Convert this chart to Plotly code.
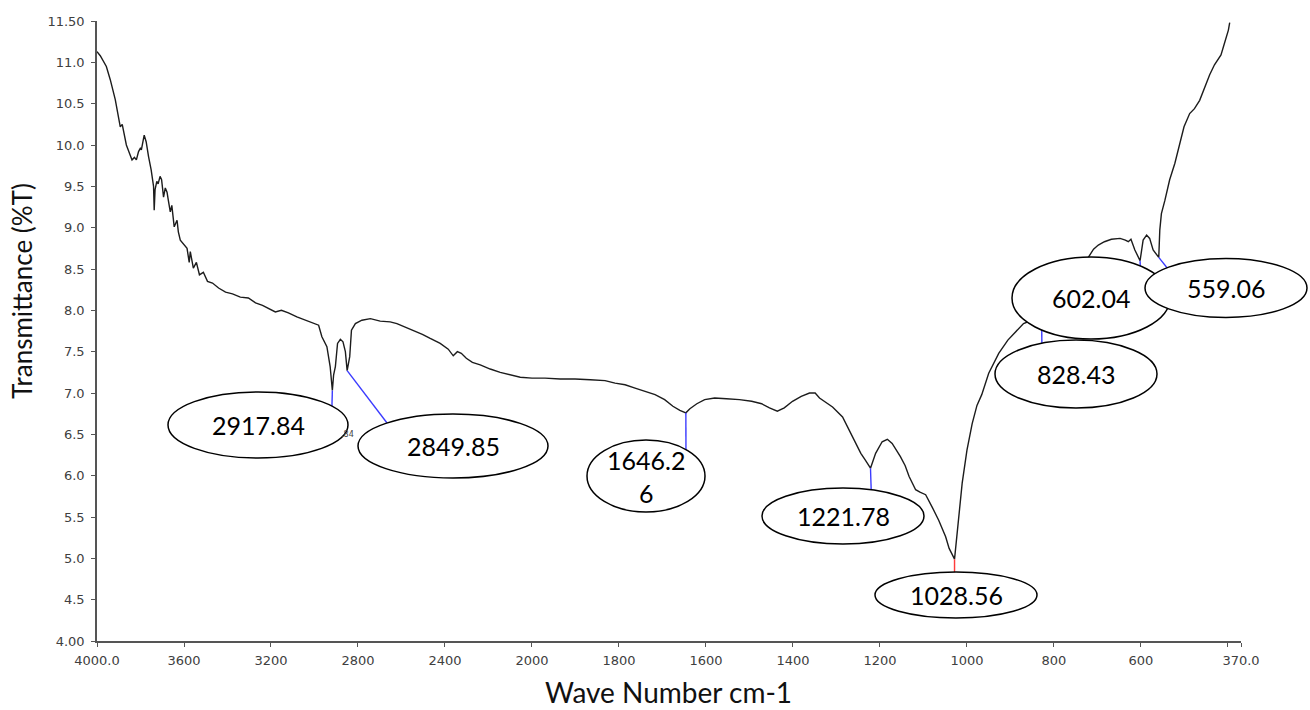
import numpy as np
import plotly.graph_objects as go

# ---- FTIR spectrum (wavenumber cm-1, transmittance %T) ----
wavenumber = [
    4000, 3985, 3957, 3939, 3916, 3893, 3884, 3865, 3839, 3828, 3819, 3809, 3801, 3796,
    3783, 3774, 3763, 3751, 3740, 3737, 3733, 3725, 3719, 3710, 3703, 3694, 3686, 3678,
    3672, 3663, 3656, 3645, 3632, 3626, 3617, 3603, 3586, 3576, 3571, 3557, 3543, 3529,
    3511, 3492, 3469, 3441, 3409, 3377, 3341, 3304, 3271, 3239, 3212, 3180, 3152, 3120,
    3081, 3042, 3004, 2981, 2966, 2943, 2928, 2917.84, 2912, 2904, 2894, 2881, 2869, 2858,
    2849.85, 2838, 2830, 2812, 2782, 2743, 2698, 2652, 2621, 2583, 2544, 2504, 2468, 2422,
    2385, 2362, 2343, 2325, 2302, 2274, 2238, 2192, 2146, 2100, 2054, 2000, 1970, 1935,
    1901, 1866, 1832, 1809, 1786, 1763, 1740, 1717, 1695, 1676, 1660, 1646.26, 1637, 1621,
    1603, 1580, 1553, 1523, 1495, 1472, 1454, 1436, 1420, 1401, 1381, 1362, 1349, 1339,
    1309, 1286, 1263, 1244, 1234, 1221.78, 1210, 1195, 1183, 1172, 1153, 1142, 1133, 1118,
    1108, 1095, 1080, 1065, 1049, 1041, 1028.56, 1023, 1011, 1000, 988, 977, 966, 950,
    927, 906, 884, 870, 851, 828.43, 790, 755, 732, 719, 709, 698, 684, 668, 648, 636,
    629, 623, 614, 602.04, 595, 587, 580, 572, 559.06, 556.7, 553, 545, 534, 522, 511,
    501, 488, 477, 465, 454, 442, 431, 416, 408, 399, 396,
]
transmittance = [
    11.13, 11.08, 10.95, 10.79, 10.55, 10.22, 10.25, 10.00, 9.82, 9.85, 9.82, 9.92, 9.96, 9.94,
    10.12, 10.04, 9.86, 9.70, 9.50, 9.21, 9.46, 9.56, 9.53, 9.62, 9.58, 9.37, 9.48, 9.43,
    9.33, 9.19, 9.27, 9.01, 9.09, 8.95, 8.85, 8.80, 8.75, 8.58, 8.71, 8.51, 8.58, 8.43,
    8.46, 8.35, 8.33, 8.27, 8.22, 8.20, 8.16, 8.15, 8.09, 8.06, 8.02, 7.98, 8.00, 7.97,
    7.92, 7.88, 7.84, 7.82, 7.68, 7.56, 7.32, 7.03, 7.22, 7.32, 7.60, 7.65, 7.62, 7.50,
    7.27, 7.44, 7.76, 7.84, 7.88, 7.90, 7.87, 7.86, 7.84, 7.80, 7.76, 7.71, 7.66, 7.60,
    7.53, 7.45, 7.50, 7.48, 7.42, 7.37, 7.34, 7.29, 7.25, 7.22, 7.19, 7.18, 7.18, 7.17,
    7.17, 7.16, 7.15, 7.12, 7.10, 7.06, 7.02, 6.98, 6.92, 6.84, 6.79, 6.76, 6.81, 6.87,
    6.92, 6.94, 6.93, 6.92, 6.90, 6.87, 6.82, 6.78, 6.82, 6.90, 6.96, 7.00, 7.00, 6.94,
    6.83, 6.71, 6.47, 6.27, 6.19, 6.09, 6.27, 6.41, 6.44, 6.39, 6.23, 6.12, 5.99, 5.83,
    5.80, 5.77, 5.62, 5.46, 5.26, 5.12, 4.99, 5.30, 5.91, 6.31, 6.63, 6.85, 6.98, 7.24,
    7.48, 7.64, 7.76, 7.84, 7.88, 7.92, 8.12, 8.37, 8.55, 8.65, 8.74, 8.79, 8.83, 8.86, 8.87, 8.85,
    8.83, 8.86, 8.73, 8.60, 8.85, 8.91, 8.87, 8.73, 8.64, 8.97, 9.17, 9.33, 9.58, 9.78, 10.02,
    10.22, 10.38, 10.44, 10.54, 10.70, 10.85, 10.97, 11.09, 11.23, 11.39, 11.48,
]

# ---- labelled bands ----
peak_labels = ["2917.84", "2849.85", "1646.2<br>6", "1221.78", "1028.56", "828.43", "602.04", "559.06"]
peak_wn = [2917.84, 2849.85, 1646.26, 1221.78, 1028.56, 828.43, 602.04, 559.06]
peak_T = [7.03, 7.27, 6.76, 6.09, 4.99, 7.92, 8.60, 8.64]

# ---- axis ticks ----
x_tick_wn = [4000, 3600, 3200, 2800, 2400, 2000, 1800, 1600, 1400, 1200, 1000, 800, 600, 400, 370]
x_tick_text = ["4000.0", "3600", "3200", "2800", "2400", "2000", "1800", "1600", "1400",
               "1200", "1000", "800", "600", "", "370.0"]
y_tick_vals = [4.0, 4.5, 5.0, 5.5, 6.0, 6.5, 7.0, 7.5, 8.0, 8.5, 9.0, 9.5, 10.0, 10.5, 11.0, 11.5]
y_tick_text = ["4.00", "4.5", "5.0", "5.5", "6.0", "6.5", "7.0", "7.5", "8.0", "8.5",
               "9.0", "9.5", "10.0", "10.5", "11.0", "11.50"]

# ---- page geometry ----
W, H = 1310, 710
ML, MR, MT, MB = 97, 69, 21, 69
PW, PH = W - ML - MR, H - MT - MB
X_RANGE = (3000.0, 370.0)   # axis coordinate (compressed above 2000 cm-1)
Y_RANGE = (4.0, 11.5)


def axis_coord(w):
    """Spectrometer scale: 2x compression above 2000 cm-1."""
    w = np.asarray(w, dtype=float)
    return np.where(w <= 2000, w, 2000 + (w - 2000) / 2.0)


def data_to_paper(w, t):
    u = float(axis_coord(w))
    fx = (X_RANGE[0] - u) / (X_RANGE[0] - X_RANGE[1])
    fy = (t - Y_RANGE[0]) / (Y_RANGE[1] - Y_RANGE[0])
    return fx, fy


def px_to_paper(px, py):
    return (px - ML) / PW, (H - MB - py) / PH


# callout bubbles: centre (px), radii (px), leader end (px), leader colour
callout_layout = [
    dict(c=(258, 425), r=(90, 33), end=(331.7, 415), col="#3b3bff"),
    dict(c=(453, 446), r=(95, 32), end=(392, 429.5), col="#3b3bff"),
    dict(c=(646, 476), r=(59, 36), end=(686, 460), col="#3b3bff"),
    dict(c=(843, 516), r=(81, 28), end=(871.5, 500), col="#3b3bff"),
    dict(c=(956, 595), r=(81, 23), end=(954.5, 585), col="#ff3b3b"),
    dict(c=(1076, 374), r=(81, 34), end=(1042, 355), col="#3b3bff"),
    dict(c=(1091, 298), r=(79, 41), end=(1141, 285), col="#3b3bff"),
    dict(c=(1226, 288), r=(81, 29.5), end=(1170, 271.5), col="#3b3bff"),
]
bubble_order = [0, 1, 2, 3, 4, 6, 5, 7]

fig = go.Figure()
fig.add_trace(go.Scatter(
    x=axis_coord(wavenumber), y=transmittance, mode="lines",
    line=dict(color="#1c1c1c", width=1.4), hoverinfo="skip", showlegend=False,
))

shapes = []
annotations = []
# leader lines from each band minimum
for lay, w, t in zip(callout_layout, peak_wn, peak_T):
    x0, y0 = data_to_paper(w, t)
    x1, y1 = px_to_paper(*lay["end"])
    shapes.append(dict(type="line", xref="paper", yref="paper", x0=x0, y0=y0, x1=x1, y1=y1,
                       line=dict(color=lay["col"], width=1.4), layer="above"))
# bubbles
for i in bubble_order:
    lay = callout_layout[i]
    (cx, cy), (rx, ry) = lay["c"], lay["r"]
    xa, ya = px_to_paper(cx - rx, cy + ry)
    xb, yb = px_to_paper(cx + rx, cy - ry)
    shapes.append(dict(type="circle", xref="paper", yref="paper", x0=xa, y0=ya, x1=xb, y1=yb,
                       fillcolor="white", line=dict(color="black", width=1.5), layer="above"))
for i, lab in enumerate(peak_labels):
    cx, cy = callout_layout[i]["c"]
    ax, ay = px_to_paper(cx, cy)
    annotations.append(dict(x=ax, y=ay, xref="paper", yref="paper", text=lab, showarrow=False,
                            font=dict(family="Lato", size=25, color="black"),
                            xanchor="center", yanchor="middle"))

# residual small peak tag beside the 2917.84 bubble
sx, sy = px_to_paper(339, 441)
annotations.append(dict(x=sx, y=sy, xref="paper", yref="paper", text=".84", showarrow=False,
                        font=dict(family="DejaVu Sans", size=8, color="#444")))

# axis titles
tx, ty = px_to_paper(668, 692)
annotations.append(dict(x=tx, y=ty, xref="paper", yref="paper", text="Wave Number cm-1",
                        showarrow=False, font=dict(family="Lato", size=28, color="#111"),
                        xanchor="center", yanchor="middle"))
tx, ty = px_to_paper(22, 291)
annotations.append(dict(x=tx, y=ty, xref="paper", yref="paper", text="Transmittance (%T)",
                        showarrow=False, textangle=-90,
                        font=dict(family="Lato", size=26, color="#111"),
                        xanchor="center", yanchor="middle"))

tick_font = dict(family="DejaVu Sans", size=13, color="#404040")
fig.update_layout(
    width=W, height=H,
    margin=dict(l=ML, r=MR, t=MT, b=MB),
    paper_bgcolor="white", plot_bgcolor="white",
    shapes=shapes, annotations=annotations,
    xaxis=dict(
        range=list(X_RANGE), tickmode="array",
        tickvals=list(axis_coord(x_tick_wn)), ticktext=x_tick_text,
        showgrid=False, zeroline=False, showline=True, linecolor="#555", linewidth=1.5,
        ticks="outside", ticklen=4, tickcolor="#555", tickwidth=1.2,
        tickfont=tick_font, ticklabelstandoff=3,
    ),
    yaxis=dict(
        range=list(Y_RANGE), tickmode="array",
        tickvals=y_tick_vals, ticktext=y_tick_text,
        showgrid=False, zeroline=False, showline=True, linecolor="#555", linewidth=1.5,
        ticks="outside", ticklen=4, tickcolor="#555", tickwidth=1.2,
        tickfont=tick_font, ticklabelstandoff=4,
    ),
)

fig.write_html("out.html")
